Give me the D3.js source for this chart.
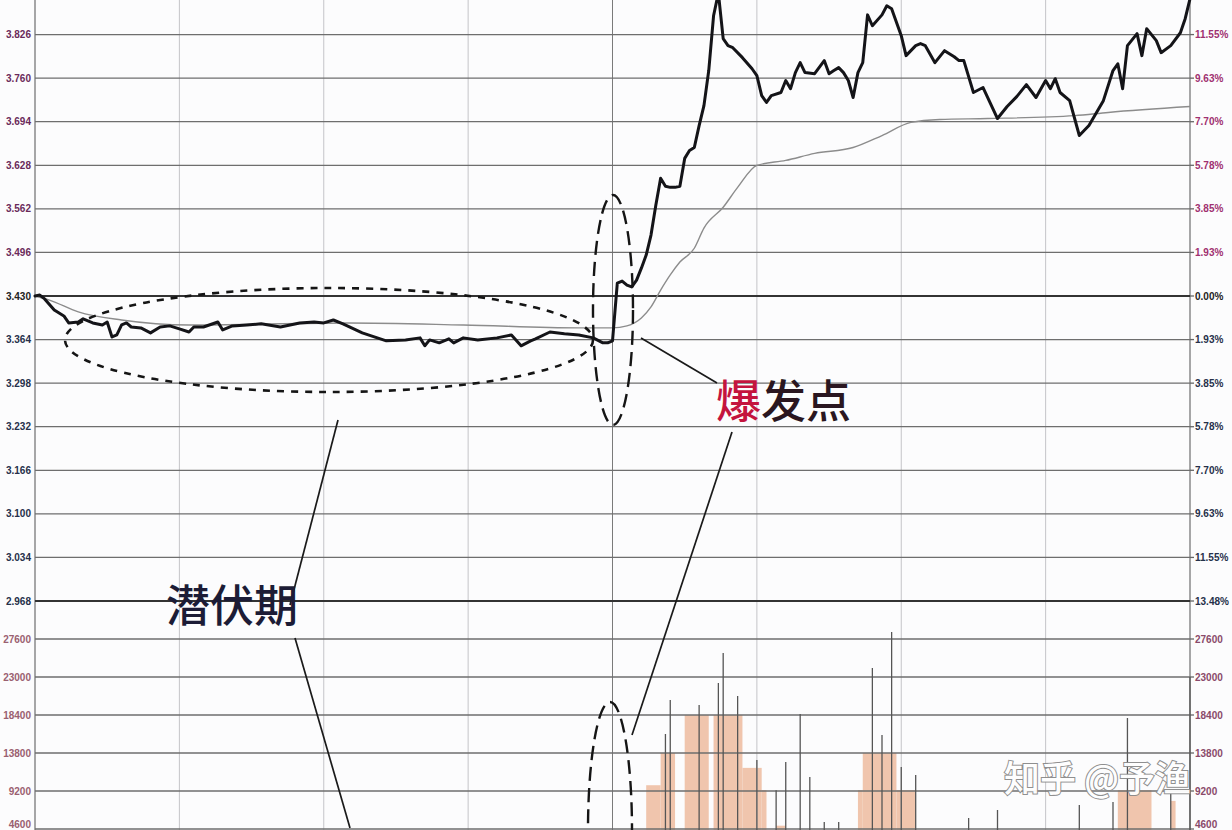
<!DOCTYPE html>
<html><head><meta charset="utf-8">
<script src="https://cdn.jsdelivr.net/npm/d3@7/dist/d3.min.js"></script>
<style>html,body{margin:0;padding:0;background:#fcfcfd;}svg{display:block;}</style>
</head><body>
<svg id="c" width="1232" height="830"></svg>
<script>
// ---- data ----
const priceMinutes = [0,1,2,4,6,7,9,10,12,14,15,16,17,18,19,20,22,24,26,28,30,32,33,35,38,39,41,44,47,51,55,58,60,62,64,68,73,77,80,81,82,84,86,87,89,92,96,99,101,103,104,107,110,113,116,118,119,120,
121,122,123,124,125,126,127,128,129,130,131,132,133,134,135,136,137,138,139,140,141,142,143,144,145,147,149,150,151,152,153,155,156,157,158,159,160,162,164,165,166,167,168,169,170,171,172,173,174,176,177,178,180,181,183,184,185,187,189,191,192,193,195,197,200,202,204,206,208,210,211,212,213,215,217,219,222,224,225,226,227,229,230,231,233,234,236,238,239,240];
const pricePct = [0,0.04,-0.13,-0.62,-0.88,-1.19,-1.15,-1.01,-1.19,-1.28,-1.15,-1.81,-1.72,-1.28,-1.19,-1.37,-1.41,-1.63,-1.37,-1.32,-1.45,-1.59,-1.37,-1.37,-1.15,-1.50,-1.32,-1.28,-1.23,-1.37,-1.19,-1.15,-1.19,-1.06,-1.23,-1.63,-1.98,-1.94,-1.85,-2.20,-1.94,-2.07,-1.89,-2.07,-1.85,-1.94,-1.85,-1.72,-2.20,-1.98,-1.89,-1.59,-1.67,-1.72,-1.85,-2.07,-2.07,-1.98,
0.57,0.66,0.48,0.40,0.70,1.23,1.81,2.69,4.01,5.20,4.85,4.80,4.80,4.85,6.08,6.43,6.56,7.53,8.41,9.96,12.38,13.39,11.37,11.06,10.97,10.53,10.04,9.74,8.85,8.55,8.85,8.99,9.52,9.16,9.87,10.31,9.87,9.82,10.40,9.82,9.96,10.09,9.87,9.52,8.77,9.87,10.31,12.42,11.94,12.42,12.82,12.69,11.50,10.62,11.06,11.15,11.06,10.31,10.84,10.57,10.40,10.40,8.99,9.21,7.84,8.37,8.81,9.34,8.77,9.52,9.16,9.60,8.99,8.63,7.09,7.53,8.63,9.96,10.26,9.16,11.06,11.59,10.62,11.81,11.28,10.75,11.06,11.63,12.25,13.13];
const avgMinutes = [0,3,9,18,32,65,89,113,120,123,126,128,130,132,134,137,139,143,146,150,156,162,170,176,182,188,198,216,223,240];
const avgPct = [0,-0.18,-0.70,-1.06,-1.28,-1.19,-1.28,-1.41,-1.41,-1.32,-0.97,-0.48,0.26,0.93,1.50,2.11,3.00,3.92,4.80,5.77,5.99,6.30,6.56,7.09,7.67,7.80,7.84,7.97,8.11,8.37];
// volume: shaded blocks [from, to, volume] and single-minute spikes [minute, volume]
const volBlockFrom = [127,130,135,141,147,151,154,171,172,179,225,236];
const volBlockTo   = [130,133,140,147,151,152,156,172,179,183,232,237];
const volBlockVal  = [9900,13800,18400,18400,12000,9300,5000,9300,13800,9300,9300,8000];
const volSpikeMin = [131,132,138,142,143,146,150,154,156,159,161,164,167,174,176,178,180,183,194,200,217,224,227,236,240];
const volSpikeVal = [16100,20216,19610,22274,25905,20700,12947,9300,12711,18521,10895,5447,5447,24090,15979,28447,12105,11137,5932,6900,7505,7868,18037,8958,23000];
// tick labels (top to bottom, one per price gridline from +6 to -7 steps)
const priceLabels = ["3.826","3.760","3.694","3.628","3.562","3.496","3.430","3.364","3.298","3.232","3.166","3.100","3.034","2.968"];
const pctLabels = ["11.55%","9.63%","7.70%","5.78%","3.85%","1.93%","0.00%","1.93%","3.85%","5.78%","7.70%","9.63%","11.55%","13.48%"];
const volLabels = ["27600","23000","18400","13800","9200","4600"];
const pctSteps = [6,5,4,3,2,1,0,-1,-2,-3,-4,-5,-6,-7];
const volSteps = [6,5,4,3,2,1];

// ---- scales ----
const svg = d3.select("#c");
const L = 35, R = 1190;
const x = d3.scaleLinear().domain([0,240]).range([L,R]);
const STEP = 1.925;
const y = d3.scaleLinear().domain([-7*STEP, 7*STEP]).range([601,-9]);
const VSTEP = 4600;
const yv = d3.scaleLinear().domain([0, 7*VSTEP]).range([867,601]);

svg.append("rect").attr("width",1232).attr("height",830).attr("fill","#fcfcfd");

// volume blocks
svg.append("g").selectAll("rect").data(volBlockFrom.map((f,i)=>({f,t:volBlockTo[i],v:volBlockVal[i]})))
  .join("rect").attr("x",d=>x(d.f)).attr("width",d=>x(d.t)-x(d.f))
  .attr("y",d=>yv(d.v)).attr("height",d=>yv(0)-yv(d.v)).attr("fill","#f0c5ad");

// vertical grid
const vt = d3.range(0,241,30);
svg.append("g").selectAll("line").data(vt).join("line")
  .attr("x1",d=>x(d)).attr("x2",d=>x(d)).attr("y1",0).attr("y2",830)
  .attr("stroke",d=>d===120?"#7a7a7a":(d===0||d===240?"#8a8a8a":"#c4c4c8"))
  .attr("stroke-width",d=>(d===0||d===240)?1.5:1);

// horizontal price grid
svg.append("g").selectAll("line").data(pctSteps).join("line")
  .attr("x1",L).attr("x2",R).attr("y1",d=>y(d*STEP)).attr("y2",d=>y(d*STEP))
  .attr("stroke",d=>(d===0||d===-7)?"#333":"#6e6e6e")
  .attr("stroke-width",d=>(d===0||d===-7)?2:1.3);
// horizontal volume grid
svg.append("g").selectAll("line").data(volSteps).join("line")
  .attr("x1",L).attr("x2",R).attr("y1",d=>yv(d*VSTEP)).attr("y2",d=>yv(d*VSTEP))
  .attr("stroke","#6e6e6e").attr("stroke-width",1.3);

// right tick marks
svg.append("g").selectAll("line").data(pctSteps.map(d=>y(d*STEP)).concat(volSteps.map(d=>yv(d*VSTEP)))).join("line")
  .attr("x1",R).attr("x2",R+4).attr("y1",d=>d).attr("y2",d=>d).attr("stroke","#666").attr("stroke-width",1.3);

// volume spikes
svg.append("g").selectAll("line").data(volSpikeMin.map((m,i)=>({m,v:volSpikeVal[i]}))).join("line")
  .attr("x1",d=>x(d.m)).attr("x2",d=>x(d.m)).attr("y1",d=>yv(d.v)).attr("y2",830)
  .attr("stroke","#555").attr("stroke-width",1.3);

// labels
const ty = v => Math.min(v+3.5, 828);
const lab = svg.append("g").attr("font-family","Liberation Sans, Arial, sans-serif").attr("font-size",10).attr("font-weight","bold");
lab.selectAll("text.pl").data(pctSteps).join("text").attr("class","pl")
  .attr("x",L-4).attr("y",d=>ty(y(d*STEP))).attr("text-anchor","end")
  .attr("fill",d=>d>0?"#6a2a5a":(d===0?"#222":"#26304a")).text((d,i)=>priceLabels[i]);
lab.selectAll("text.pr").data(pctSteps).join("text").attr("class","pr")
  .attr("x",R+5).attr("y",d=>ty(y(d*STEP))).attr("text-anchor","start")
  .attr("fill",d=>d>0?"#a03070":(d===0?"#222":"#26304a")).text((d,i)=>pctLabels[i]);
lab.selectAll("text.vl").data(volSteps).join("text").attr("class","vl")
  .attr("x",L-4).attr("y",d=>ty(yv(d*VSTEP))).attr("text-anchor","end")
  .attr("fill","#9a6070").text((d,i)=>volLabels[i]);
lab.selectAll("text.vr").data(volSteps).join("text").attr("class","vr")
  .attr("x",R+5).attr("y",d=>ty(yv(d*VSTEP))).attr("text-anchor","start")
  .attr("fill","#8a4a6a").text((d,i)=>volLabels[i]);

// average line
const avgData = avgMinutes.map((m,i)=>[m,avgPct[i]]);
svg.append("path").datum(avgData)
  .attr("d",d3.line().x(d=>x(d[0])).y(d=>y(d[1])).curve(d3.curveMonotoneX))
  .attr("fill","none").attr("stroke","#8c8c8c").attr("stroke-width",1.4);

// price line
const priceData = priceMinutes.map((m,i)=>[m,pricePct[i]]);
svg.append("path").datum(priceData)
  .attr("d",d3.line().x(d=>x(d[0])).y(d=>y(d[1])))
  .attr("fill","none").attr("stroke","#141418").attr("stroke-width",3)
  .attr("stroke-linejoin","round").attr("stroke-linecap","round");

// annotations: dashed ellipses
const ann = svg.append("g").attr("fill","none").attr("stroke","#151515");
ann.append("ellipse").attr("cx",329).attr("cy",340).attr("rx",264).attr("ry",52)
  .attr("stroke-width",2.6).attr("stroke-dasharray","7,7");
ann.append("ellipse").attr("cx",613).attr("cy",310).attr("rx",20).attr("ry",115)
  .attr("stroke-width",2.4).attr("stroke-dasharray","14,7");
ann.append("ellipse").attr("cx",610).attr("cy",830).attr("rx",22).attr("ry",128)
  .attr("stroke-width",2.4).attr("stroke-dasharray","14,7");
// pointer lines
const seg = [[338,420,290,605],[295,638,350,828],[641,338,717,383],[732,432,632,735]];
ann.selectAll("line").data(seg).join("line")
  .attr("x1",d=>d[0]).attr("y1",d=>d[1]).attr("x2",d=>d[2]).attr("y2",d=>d[3])
  .attr("stroke","#1a1a1a").attr("stroke-width",1.7);

// annotation text
svg.append("text").attr("x",166).attr("y",622).attr("font-family","Noto Sans CJK SC")
  .attr("font-size",44).attr("font-weight",500).attr("fill","#1c1c36").text("潜伏期");
const t2 = svg.append("text").attr("x",716).attr("y",418).attr("font-family","Noto Sans CJK SC")
  .attr("font-size",45).attr("font-weight",500);
t2.append("tspan").attr("fill","#c4143e").text("爆");
t2.append("tspan").attr("fill","#2a1620").text("发点");

// watermark
svg.append("text").attr("x",1004).attr("y",792).attr("font-family","Noto Sans CJK SC")
  .attr("font-size",36).attr("font-weight",500).attr("fill","#ffffff").attr("stroke","#8a8a8a")
  .attr("stroke-width",2).attr("paint-order","stroke").attr("opacity",0.95)
  .text("知乎 @予渔");
</script>
</body></html>
